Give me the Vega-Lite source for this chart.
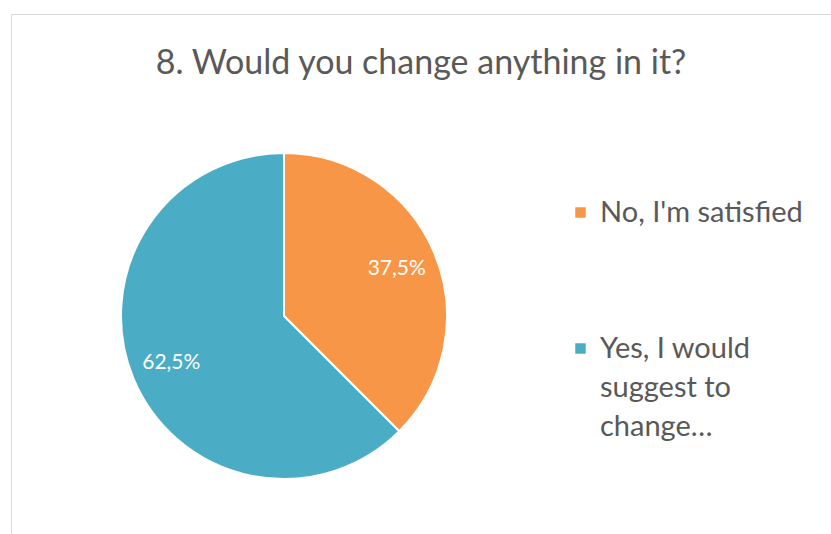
{
  "$schema": "https://vega.github.io/schema/vega-lite/v6.json",
  "autosize": "none",
  "width": 820,
  "height": 520,
  "padding": {"left": 11, "top": 14, "right": 0, "bottom": 0},
  "background": "white",
  "view": {"stroke": "#d9d9d9", "strokeWidth": 1},
  "title": {
    "text": "8. Would you change anything in it?",
    "font": "Lato",
    "fontSize": 34,
    "fontWeight": "normal",
    "color": "#595959",
    "anchor": "middle",
    "baseline": "alphabetic",
    "offset": 0,
    "dy": 94
  },
  "data": {
    "values": [
      {"answer": "No, I'm satisfied", "share": 0.375},
      {"answer": "Yes, I would suggest to change…", "share": 0.625}
    ]
  },
  "encoding": {
    "theta": {"field": "share", "type": "quantitative", "stack": true},
    "color": {
      "field": "answer",
      "type": "nominal",
      "scale": {"domain": ["No, I'm satisfied", "Yes, I would suggest to change…"], "range": ["#F79646", "#4BACC6"]},
      "legend": {
        "orient": "none",
        "legendX": 555,
        "legendY": 184,
        "title": null,
        "symbolType": "square",
        "symbolSize": 110,
        "symbolStrokeWidth": 0,
        "labelFont": "Lato",
        "labelFontSize": 29,
        "labelColor": "#595959",
        "labelOffset": 5,
        "labelLimit": 0,
        "labelBaseline": "middle",
        "rowPadding": 106,
        "labelExpr": "datum.label == 'Yes, I would suggest to change…' ? ['Yes, I would', 'suggest to', 'change…'] : [datum.label]"
      }
    }
  },
  "layer": [
    {
      "mark": {"type": "arc", "radius": 163, "stroke": "white", "strokeWidth": 2, "xOffset": -137, "yOffset": 42}
    },
    {
      "mark": {"type": "text", "radius": 122, "font": "Lato", "fontSize": 21, "xOffset": -137, "yOffset": 42},
      "encoding": {
        "text": {"field": "share", "type": "quantitative", "format": ".1%"},
        "color": {"value": "white"}
      }
    }
  ],
  "config": {
    "view": {"stroke": "#d9d9d9", "strokeWidth": 1},
    "style": {"guide-label": {"lineHeight": 39}},
    "locale": {"number": {"decimal": ",", "thousands": ".", "grouping": [3], "currency": ["", " €"]}}
  }
}
